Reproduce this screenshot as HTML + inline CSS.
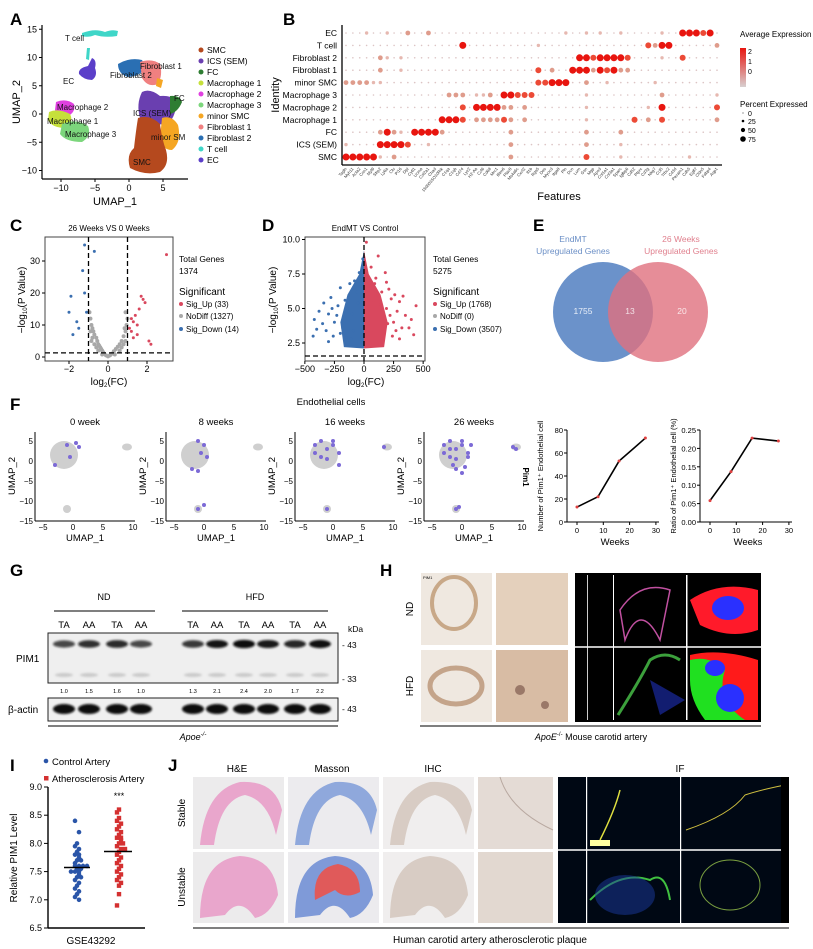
<!DOCTYPE html>
<html><head><meta charset="utf-8"><style>
html,body{margin:0;padding:0;background:#fff}
svg{display:block;font-family:"Liberation Sans Narrow","Liberation Sans",Arial,sans-serif}
.pl{font-family:"Liberation Sans",Arial,sans-serif;font-weight:bold;font-size:17px}
</style></head><body>
<svg id="fig" width="813" height="949" viewBox="0 0 813 949" xmlns="http://www.w3.org/2000/svg">
<defs>
<filter id="blur1" x="-20%" y="-50%" width="140%" height="200%"><feGaussianBlur stdDeviation="1.1"/></filter>
<filter id="blur2"><feGaussianBlur stdDeviation="2.5"/></filter>
</defs>
<g>
<text class="pl" x="10" y="25">A</text>
<text class="pl" x="283" y="25">B</text>
<text class="pl" x="10" y="231">C</text>
<text class="pl" x="262" y="231">D</text>
<text class="pl" x="533" y="231">E</text>
<text class="pl" x="10" y="410">F</text>
<text class="pl" x="10" y="576">G</text>
<text class="pl" x="380" y="576">H</text>
<text class="pl" x="10" y="771">I</text>
<text class="pl" x="168" y="771">J</text>
</g>

<g>
<path d="M82,33 Q95,28 105,32 Q112,29 118,31 L117,36 Q105,38 95,35 Q88,38 82,36Z" fill="#3fd6c8"/>
<path d="M87,48 L90,48 L89,60 L86,59Z" fill="#3fd6c8"/>
<path d="M92,58 Q97,60 95,68 Q98,76 92,80 Q84,80 79,74 Q78,68 88,66Z" fill="#5b3fc9"/>
<path d="M118,64 Q130,57 142,60 L146,68 Q140,76 128,77 Q118,74 118,64Z" fill="#2a6fb3"/>
<path d="M140,62 Q152,58 160,64 Q163,75 158,84 Q148,88 142,78Z" fill="#f08080"/>
<path d="M157,78 L163,80 L161,88 L156,86Z" fill="#f5a623"/>
<path d="M142,92 Q150,88 160,96 Q170,95 176,100 Q177,115 168,124 Q150,126 140,118 Q136,104 142,92Z" fill="#6a3fb0"/>
<path d="M170,96 Q180,95 182,102 Q178,112 170,114Z" fill="#2e7d32"/>
<path d="M162,118 Q172,115 178,125 Q182,142 172,150 Q162,150 160,138Z" fill="#f5a623"/>
<path d="M138,118 Q150,114 160,124 Q162,140 166,150 Q170,165 160,172 Q145,176 130,168 Q126,155 134,148 Q136,130 138,118Z" fill="#b5491e"/>
<path d="M56,102 Q66,98 74,104 Q76,112 68,116 Q58,116 55,110Z" fill="#e040e0"/>
<path d="M49,112 Q58,108 70,114 Q74,122 66,128 Q52,128 48,120Z" fill="#c6e03b"/>
<path d="M62,124 Q76,118 88,126 Q92,136 82,142 Q66,142 60,134Z" fill="#7cd67c"/>
</g>
<g font-size="8" fill="#111">
<text x="65" y="41">T cell</text>
<text x="63" y="84">EC</text>
<text x="140" y="69">Fibroblast 1</text>
<text x="110" y="78">Fibroblast 2</text>
<text x="174" y="101">FC</text>
<text x="133" y="116">ICS (SEM)</text>
<text x="151" y="140">minor SM</text>
<text x="133" y="165">SMC</text>
<text x="57" y="110">Macrophage 2</text>
<text x="47" y="124">Macrophage 1</text>
<text x="65" y="137">Macrophage 3</text>
</g>
<g id="gA"></g>
<g id="gB"></g>
<g id="gC"></g>
<g id="gD"></g>

<g>
<text x="573" y="242" font-size="8.5" fill="#6b8fc6" text-anchor="middle">EndMT</text>
<text x="573" y="254" font-size="8.5" fill="#6b8fc6" text-anchor="middle">Upregulated Genes</text>
<text x="681" y="242" font-size="8.5" fill="#e0808e" text-anchor="middle">26 Weeks</text>
<text x="681" y="254" font-size="8.5" fill="#e0808e" text-anchor="middle">Upregulated Genes</text>
<circle cx="603" cy="312" r="50" fill="#5b86c4" fill-opacity="0.9"/>
<circle cx="658" cy="312" r="50" fill="#e0707e" fill-opacity="0.8"/>
<text x="583" y="314" font-size="8.5" fill="#e8eef8" text-anchor="middle">1755</text>
<text x="630" y="314" font-size="8.5" fill="#f2e0e6" text-anchor="middle">13</text>
<text x="682" y="314" font-size="8.5" fill="#fbe8ea" text-anchor="middle">20</text>
</g>

<g id="gF"></g>

<g>
<text x="104" y="600" font-size="9" text-anchor="middle">ND</text>
<text x="255" y="600" font-size="9" text-anchor="middle">HFD</text>
<line x1="54" y1="611" x2="155" y2="611" stroke="#333" stroke-width="1.2"/>
<line x1="182" y1="611" x2="328" y2="611" stroke="#333" stroke-width="1.2"/>
<text x="348" y="632" font-size="8.5">kDa</text>
<rect x="48" y="633" width="290" height="50" fill="#efefef" stroke="#222" stroke-width="1"/>
<text x="16" y="662" font-size="10">PIM1</text>
<text x="342" y="648" font-size="8.5">- 43</text>
<text x="342" y="682" font-size="8.5">- 33</text>
<rect x="48" y="698" width="290" height="23" fill="#f0f0f0" stroke="#222" stroke-width="1"/>
<text x="8" y="713" font-size="10">β-actin</text>
<text x="342" y="712" font-size="8.5">- 43</text>
<line x1="48" y1="726" x2="338" y2="726" stroke="#333" stroke-width="1.2"/>
<text x="193" y="740" font-size="9" font-style="italic" text-anchor="middle">Apoe<tspan font-size="6" dy="-4">-/-</tspan></text>
<g id="gG"></g>
</g>

<g>
<text transform="translate(413,609) rotate(-90)" font-size="10" text-anchor="middle">ND</text>
<text transform="translate(413,686) rotate(-90)" font-size="10" text-anchor="middle">HFD</text>
<rect x="421" y="573" width="71" height="72" fill="#efe8e0"/>
<ellipse cx="454" cy="603" rx="22" ry="26" fill="none" stroke="#c8a888" stroke-width="4"/>
<text x="423" y="579" font-size="4">PIM1</text>
<rect x="421" y="650" width="71" height="72" fill="#efe8e0"/>
<ellipse cx="456" cy="686" rx="26" ry="18" fill="none" stroke="#c4a48a" stroke-width="5"/>
<rect x="496" y="573" width="72" height="72" fill="#e4d0bc"/>
<rect x="496" y="650" width="72" height="72" fill="#d8bca4"/>
<circle cx="520" cy="690" r="5" fill="#9a7868"/>
<circle cx="545" cy="705" r="4" fill="#9a7868"/>
<rect x="575" y="573" width="186" height="149" fill="#000"/>
<line x1="575" y1="647" x2="761" y2="647" stroke="#fff" stroke-width="1.5"/>
<rect x="587" y="575" width="0.8" height="145" fill="#fff"/>
<rect x="613" y="575" width="1" height="145" fill="#fff"/>
<rect x="686" y="575" width="1.5" height="145" fill="#fff"/>
<path d="M620,610 Q640,580 670,590 L660,640 Q640,600 625,640Z" fill="none" stroke="#c050a0" stroke-width="1.5"/>
<path d="M618,715 Q640,680 650,660 Q665,650 680,660" fill="none" stroke="#3ca03c" stroke-width="3"/>
<path d="M650,680 L685,700 L660,715Z" fill="#1a2aa0" opacity="0.7"/>
<path d="M690,600 Q720,580 758,590 L758,630 Q730,640 700,625Z" fill="#ff1a2a"/>
<ellipse cx="728" cy="608" rx="16" ry="12" fill="#2a30ff"/>
<path d="M690,655 Q720,648 758,660 L758,720 L720,720 Q700,690 690,680Z" fill="#ff1a1a"/>
<path d="M690,660 Q710,655 725,670 Q715,700 745,720 L705,720 Q690,700 690,680Z" fill="#20e020"/>
<ellipse cx="730" cy="698" rx="14" ry="14" fill="#2a30ff"/>
<ellipse cx="715" cy="668" rx="10" ry="8" fill="#2a30ff"/>
<line x1="420" y1="726" x2="761" y2="726" stroke="#333" stroke-width="1.2"/>
<text x="591" y="740" font-size="9" text-anchor="middle"><tspan font-style="italic">ApoE</tspan><tspan font-size="6" dy="-4">-/-</tspan><tspan dy="4"> Mouse carotid artery</tspan></text>
</g>

<g id="gI"></g>

<g>
<g font-size="10" text-anchor="middle">
<text x="237" y="772">H&amp;E</text>
<text x="332" y="772">Masson</text>
<text x="433" y="772">IHC</text>
<text x="680" y="772">IF</text>
</g>
<text transform="translate(185,813) rotate(-90)" font-size="10" text-anchor="middle">Stable</text>
<text transform="translate(185,887) rotate(-90)" font-size="10" text-anchor="middle">Unstable</text>
<rect x="193" y="777" width="91" height="72" fill="#ecebec"/>
<path d="M200,845 Q205,790 240,782 Q275,780 282,810 L276,835 Q268,800 245,795 Q220,800 214,845Z" fill="#e9a6cc"/>
<rect x="193" y="852" width="91" height="71" fill="#ecebec"/>
<path d="M200,918 Q200,860 240,856 Q275,858 278,895 Q270,915 255,918 Q240,895 225,915Z" fill="#e9a6cc"/>
<rect x="288" y="777" width="91" height="72" fill="#ecebee"/>
<path d="M295,845 Q300,790 335,782 Q370,780 377,810 L371,835 Q363,800 340,795 Q315,800 309,845Z" fill="#8fa8dc"/>
<rect x="288" y="852" width="91" height="71" fill="#ecebee"/>
<path d="M295,918 Q295,860 335,856 Q370,858 373,895 Q365,915 350,918 Q335,895 320,915Z" fill="#7f9ad8"/>
<path d="M315,900 Q312,868 338,864 Q360,868 360,892 Q345,900 335,890Z" fill="#e05a5a"/>
<rect x="383" y="777" width="91" height="72" fill="#f0eeee"/>
<path d="M390,845 Q395,790 430,782 Q465,780 472,810 L466,835 Q458,800 435,795 Q410,800 404,845Z" fill="#d8ccc4"/>
<rect x="383" y="852" width="91" height="71" fill="#f0eeee"/>
<path d="M390,918 Q390,860 430,856 Q465,858 468,895 Q460,915 445,918 Q430,895 415,915Z" fill="#d8ccc4"/>
<rect x="478" y="777" width="75" height="72" fill="#e4dbd5"/>
<rect x="478" y="852" width="75" height="71" fill="#e2d8d0"/>
<path d="M500,777 Q510,810 553,830" fill="none" stroke="#b8a8a0" stroke-width="1"/>
<rect x="558" y="777" width="231" height="146" fill="#000814"/>
<line x1="558" y1="850" x2="789" y2="850" stroke="#fff" stroke-width="1.5"/>
<rect x="586" y="777" width="1.2" height="146" fill="#fff"/>
<rect x="680" y="777" width="1.2" height="146" fill="#fff"/>
<path d="M600,840 Q615,810 620,790" fill="none" stroke="#e0e040" stroke-width="1.5"/>
<rect x="590" y="840" width="20" height="6" fill="#ffffa0"/>
<path d="M686,830 Q730,815 745,795 Q760,790 785,785" fill="none" stroke="#d0c040" stroke-width="1"/>
<path d="M590,900 Q620,870 650,880 Q665,870 670,900" fill="none" stroke="#40c040" stroke-width="2"/>
<ellipse cx="625" cy="895" rx="30" ry="20" fill="#1a3aa0" opacity="0.5"/>
<ellipse cx="730" cy="885" rx="30" ry="25" fill="none" stroke="#7aa040" stroke-width="1"/>
<rect x="781" y="777" width="8" height="146" fill="#000"/>
<line x1="193" y1="928" x2="789" y2="928" stroke="#333" stroke-width="1.2"/>
<text x="490" y="943" font-size="10" text-anchor="middle">Human carotid artery atherosclerotic plaque</text>
</g>
</svg>
<script>
const NS="http://www.w3.org/2000/svg";
function mk(tag,parent,attrs){const e=document.createElementNS(NS,tag);for(const k in attrs)e.setAttribute(k,attrs[k]);parent.appendChild(e);return e;}
function txt(parent,x,y,s,size,anchor){const t=mk('text',parent,{x:x,y:y,'font-size':size,'text-anchor':anchor||'start'});t.textContent=s;return t;}

const aXTicks=[-10,-5,0,5];
const aYTicks=[15,10,5,0,-5,-10];
const aLegend=["SMC","ICS (SEM)","FC","Macrophage 1","Macrophage 2","Macrophage 3","minor SMC","Fibroblast 1","Fibroblast 2","T cell","EC"];
const aLegendColors=["#b5491e","#6a3fb0","#2e7d32","#c6e03b","#e040e0","#7cd67c","#f5a623","#f08080","#2a6fb3","#3fd6c8","#5b3fc9"];
(function(){
 const g=document.getElementById('gA');
 const ax=v=>129+v*6.8, ay=v=>114-v*5.65;
 let l=mk('line',g,{x1:42,y1:25,x2:42,y2:179,stroke:'#000','stroke-width':1.2});
 
 
 l=mk('line',g,{x1:42,y1:179,x2:188,y2:179,stroke:'#000','stroke-width':1.2});
 
 
 aXTicks.forEach(v=>{mk('line',g,{x1:ax(v),y1:179,x2:ax(v),y2:182,stroke:'#000'});const t=txt(g,ax(v),191,String(v).replace('-','−'),9,'middle');});
 aYTicks.forEach(v=>{mk('line',g,{x1:39,y1:ay(v),x2:42,y2:ay(v),stroke:'#000'});const t=txt(g,37,ay(v)+3,String(v).replace('-','−'),9,'end');});
 let t=txt(g,115,205,'UMAP_1',11,'middle');
 t=mk('text',g,{transform:'translate(20,102) rotate(-90)','font-size':11,'text-anchor':'middle'});t.textContent='UMAP_2';
 
 aLegend.forEach((s,i)=>{const y=50+i*11;const c=mk('circle',g,{cx:201,cy:y,r:2.5,fill:aLegendColors[i]});const tt=txt(g,207,y+3,s,8.5);});
})();

const bIdentities=["EC","T cell","Fibroblast 2","Fibroblast 1","minor SMC","Macrophage 3","Macrophage 2","Macrophage 1","FC","ICS (SEM)","SMC"];
const bGenes=["Tagln","Myh11","Acta2","Cnn1","Myl9","Sfrp2","Ly6a","Clu","Pi16","Dpt","Cytl1","Ucma","Col2a1","Chad","1500015O10Rik","C1qa","C1qb","Cd74","Lyz2","H2-Aa","Ccl6","Cd68","Mrc1","Ifitm6","Plac8","Ms4a6c","Cxcl2","Il1b","Rgs5","Des","Myocd","Itga8","Pln","Dcn","Lum","Gsn","Mgp","Apod","Col1a1","Col3a1","Sparc","Igfbp6","Cd52","Ptprc","Cd3g","Nkg7","Ccl5","Trbc2","Cd3d","Pecam1","Cdh5","Egfl7","Cldn5","Fabp4","Aqp1"];
const bEC=[[3,1],[6,1],[9,2],[12,2],[32,1],[35,1],[37,1],[40,1],[46,1],[49,4],[50,4],[51,4],[52,3],[53,4]];
const bTcell=[[17,4],[28,1],[44,3],[45,2],[46,4],[47,4],[54,2]];
const bFib2=[[5,2],[6,1],[8,1],[34,4],[35,4],[36,3],[37,4],[38,4],[39,4],[40,4],[41,3],[46,1],[49,3]];
const bFib1=[[5,2],[8,1],[28,3],[30,2],[33,4],[34,4],[35,4],[36,2],[37,4],[38,3],[39,4],[40,2],[41,2]];
const bMinor=[[0,2],[1,2],[2,2],[3,2],[4,1],[5,1],[28,3],[29,3],[30,4],[31,4],[32,4],[35,2],[38,1],[45,1]];
const bMac3=[[15,2],[16,2],[17,2],[19,1],[20,1],[21,2],[23,4],[24,4],[25,3],[26,3],[27,3],[35,1],[46,2],[54,1]];
const bMac2=[[17,3],[19,4],[20,4],[21,4],[22,4],[23,2],[24,2],[26,2],[35,1],[44,1],[46,4],[54,3]];
const bMac1=[[14,4],[15,4],[16,4],[17,3],[19,2],[20,2],[21,2],[22,2],[23,3],[24,2],[26,2],[35,1],[42,3],[44,2],[46,3],[54,2]];
const bFC=[[5,2],[6,4],[7,2],[8,1],[10,4],[11,4],[12,4],[13,4],[14,2],[24,2],[35,2],[40,2]];
const bICS=[[0,1],[5,4],[6,4],[7,4],[8,4],[9,3],[12,1],[24,2],[35,2],[40,1]];
const bSMC=[[0,4],[1,4],[2,4],[3,4],[4,4],[5,1],[7,2],[24,2],[35,3],[40,1],[50,1]];
const bRows=[bEC,bTcell,bFib2,bFib1,bMinor,bMac3,bMac2,bMac1,bFC,bICS,bSMC];
(function(){
 const g=document.getElementById('gB');
 const cx=i=>346+i*(371/(bGenes.length-1)), ry=i=>33+i*12.4;
 const rad=[0.8,1.7,2.4,3.0,3.5], col=['#dcc4c4','#e6b8b0','#df9c8c','#ec4a36','#e8150f'];
 let l=mk('line',g,{x1:342,y1:25,x2:342,y2:165,stroke:'#000','stroke-width':1.3});
 l=mk('line',g,{x1:342,y1:165,x2:722,y2:165,stroke:'#000','stroke-width':1.3});
 bIdentities.forEach((s,r)=>{const t=txt(g,337,ry(r)+3,s,8.5,'end');
  const lv=new Array(bGenes.length).fill(0);bRows[r].forEach(p=>lv[p[0]]=p[1]);
  lv.forEach((v,i)=>{const c=mk('circle',g,{cx:cx(i),cy:ry(r),r:rad[v],fill:col[v]});});});
 bGenes.forEach((s,i)=>{const t=mk('text',g,{transform:`translate(${cx(i)+1},169) rotate(-50)`,'font-size':4.2,'text-anchor':'end',fill:'#333'});t.textContent=s;});
 let t=txt(g,559,200,'Features',11,'middle');
 t=mk('text',g,{transform:'translate(279,95) rotate(-90)','font-size':11,'text-anchor':'middle'});t.textContent='Identity';
 t=txt(g,740,37,'Average Expression',8);
 const lg=mk('linearGradient',document.querySelector('defs'),{id:'bgrad',x1:0,y1:0,x2:0,y2:1});mk('stop',lg,{offset:0,'stop-color':'#e8150f'});mk('stop',lg,{offset:1,'stop-color':'#d8d0d0'});
 const cb=mk('rect',g,{x:740,y:48,width:6,height:39,fill:'url(#bgrad)'});
 [['2',54],['1',64],['0',74]].forEach(a=>{const tt=txt(g,748,a[1],a[0],7);});
 t=txt(g,740,107,'Percent Expressed',8);
 [[0,113,0.5],[25,121,1.3],[50,130,2.1],[75,139,2.8]].forEach(a=>{const c=mk('circle',g,{cx:743,cy:a[1],r:a[2],fill:'#000'});const tt=txt(g,748,a[1]+3,String(a[0]),7);});
})();

const cUp=[[3.0,32],[1.3,11],[1.5,10],[1.7,19],[1.8,18],[1.9,17],[1.2,8],[1.4,13],[2.1,5],[1.6,15],[1.3,6],[1.1,9],[2.2,4],[1.5,7],[1.2,12]];
const cDown=[[-1.2,35],[-1.3,27],[-1.2,20],[-1.9,19],[-1.6,11],[-1.8,7],[-1.1,14],[-2.0,14],[-1.5,9],[-0.7,33]];
const cNoDiff=[[-0.9,12],[-0.85,10],[-0.8,9],[-0.75,8],[-0.7,7],[-0.6,6],[-0.55,5],[-0.5,4],[-0.45,3.5],[-0.4,3],[-0.35,2.5],[-0.3,2],[-0.25,1.5],[-0.2,1],[-0.1,0.5],[0,0.2],[0.1,0.5],[0.2,1],[0.3,1.8],[0.4,2.5],[0.5,3.2],[0.6,4],[0.7,5],[0.8,6.5],[0.9,8],[0.95,10],[1.0,12],[-0.9,8],[-0.8,6],[-0.7,4],[-0.6,3],[0.7,3],[0.8,4],[0.9,5],[-0.95,14],[0.6,2],[-0.5,2],[0.35,0.8],[-0.3,0.8],[0.9,14],[-0.85,5],[0.85,9]];
const cXTicks=[-2,0,2], cYTicks=[0,10,20,30];
(function(){
 const g=document.getElementById('gC');
 const x=v=>108+v*19.5, y=v=>357-v*3.2;
 let t=txt(g,109,231,'26 Weeks VS 0 Weeks',8,'middle');
 const b=mk('rect',g,{x:45,y:237,width:128,height:124,fill:'none',stroke:'#444','stroke-width':1});
 cNoDiff.forEach(p=>{const c=mk('circle',g,{cx:x(p[0]),cy:y(p[1]),r:2,fill:'#a8a8a8'});});
 cUp.forEach(p=>{const c=mk('circle',g,{cx:x(p[0]),cy:y(p[1]),r:1.5,fill:'#d9485e'});});
 cDown.forEach(p=>{const c=mk('circle',g,{cx:x(p[0]),cy:y(p[1]),r:1.5,fill:'#3b6fb0'});});
 [-1,1].forEach(v=>{const l=mk('line',g,{x1:x(v),y1:237,x2:x(v),y2:361,stroke:'#000','stroke-width':1.3,'stroke-dasharray':'5,3'});});
 let l=mk('line',g,{x1:45,y1:y(1.3),x2:173,y2:y(1.3),stroke:'#000','stroke-width':1.3,'stroke-dasharray':'5,3'});
 cXTicks.forEach(v=>{mk('line',g,{x1:x(v),y1:361,x2:x(v),y2:364,stroke:'#000'});const tt=txt(g,x(v),372,String(v).replace('-','−'),9,'middle');});
 cYTicks.forEach(v=>{mk('line',g,{x1:42,y1:y(v),x2:45,y2:y(v),stroke:'#000'});const tt=txt(g,40,y(v)+3,String(v),9,'end');});
 t=mk('text',g,{x:109,y:385,'font-size':10,'text-anchor':'middle'});t.innerHTML='log<tspan font-size="6" dy="2">2</tspan><tspan dy="-2">(FC)</tspan>';
 t=mk('text',g,{transform:'translate(25,300) rotate(-90)','font-size':10,'text-anchor':'middle'});t.innerHTML='−log<tspan font-size="6" dy="2">10</tspan><tspan dy="-2">(P Value)</tspan>';
 [['Total Genes',262,8.5],['1374',274,8.5],['Significant',295,10]].forEach(a=>{const tt=txt(g,179,a[1],a[0],a[2]);});
 [['Sig_Up (33)','#d9485e',307],['NoDiff (1327)','#a8a8a8',319],['Sig_Down (14)','#3b6fb0',332]].forEach(a=>{const c=mk('circle',g,{cx:181,cy:a[2]-3,r:2,fill:a[1]});const tt=txt(g,186,a[2],a[0],8);});
})();

const dUp=[[20,9.8],[120,8.8],[60,8.0],[180,7.6],[210,6.4],[90,6.8],[150,6.2],[230,5.7],[300,5.5],[260,6.0],[190,5.0],[350,4.5],[400,4.2],[320,3.6],[170,3.2],[130,3.8],[240,3.0],[420,3.1],[80,5.6],[110,4.6],[280,4.8],[200,3.9],[60,3.4],[330,5.9],[160,4.3],[440,5.2],[250,4.0],[100,7.2],[40,6.6],[140,5.3],[220,4.5],[380,3.6],[300,2.8],[70,2.9],[190,6.9],[270,3.4],[130,2.6],[50,4.9]];
const dDown=[[-10,8.6],[-40,7.6],[-200,6.5],[-120,6.8],[-280,5.8],[-340,5.4],[-300,4.6],[-220,5.2],[-160,5.6],[-380,4.8],[-420,4.2],[-250,4.0],[-320,3.4],[-180,3.6],[-430,3.0],[-100,4.6],[-60,6.2],[-140,5.0],[-260,3.0],[-200,3.2],[-350,3.9],[-90,3.4],[-300,2.6],[-110,2.8],[-50,5.4],[-230,4.5],[-170,4.3],[-80,7.0],[-30,6.6],[-400,3.5],[-150,2.9],[-270,5.0]];
const dXTicks=[-500,-250,0,250,500], dYTicks=[2.5,5.0,7.5,10.0];
(function(){
 const g=document.getElementById('gD');
 const x=v=>364+v*0.1183, y=v=>343-(v-2.5)*13.8;
 let t=txt(g,365,231,'EndMT VS Control',8,'middle');
 const b=mk('rect',g,{x:305,y:237,width:120,height:124,fill:'none',stroke:'#444','stroke-width':1});
 let p=mk('path',g,{d:`M${x(0)},${y(9.2)} L${x(-40)},${y(7.5)} L${x(-140)},${y(6)} L${x(-200)},${y(4)} L${x(-170)},${y(2.2)} L${x(0)},${y(2.1)}Z`,fill:'#3b6fb0'});
 p=mk('path',g,{d:`M${x(0)},${y(9.2)} L${x(40)},${y(7.5)} L${x(140)},${y(6)} L${x(200)},${y(4)} L${x(170)},${y(2.2)} L${x(0)},${y(2.1)}Z`,fill:'#d9485e'});
 dDown.forEach(q=>{const c=mk('circle',g,{cx:x(q[0]),cy:y(q[1]),r:1.5,fill:'#3b6fb0'});});
 dUp.forEach(q=>{const c=mk('circle',g,{cx:x(q[0]),cy:y(q[1]),r:1.5,fill:'#d9485e'});});
 let l=mk('line',g,{x1:x(0),y1:237,x2:x(0),y2:361,stroke:'#000','stroke-width':1.3,'stroke-dasharray':'5,3'});
 l=mk('line',g,{x1:305,y1:356,x2:425,y2:356,stroke:'#000','stroke-width':1.3,'stroke-dasharray':'5,3'});
 dXTicks.forEach(v=>{mk('line',g,{x1:x(v),y1:361,x2:x(v),y2:364,stroke:'#000'});const tt=txt(g,x(v),372,String(v).replace('-','−'),9,'middle');});
 dYTicks.forEach(v=>{mk('line',g,{x1:302,y1:y(v),x2:305,y2:y(v),stroke:'#000'});const tt=txt(g,300,y(v)+3,v.toFixed(1),9,'end');});
 t=mk('text',g,{x:366,y:385,'font-size':10,'text-anchor':'middle'});t.innerHTML='log<tspan font-size="6" dy="2">2</tspan><tspan dy="-2">(FC)</tspan>';
 t=mk('text',g,{transform:'translate(276,300) rotate(-90)','font-size':10,'text-anchor':'middle'});t.innerHTML='−log<tspan font-size="6" dy="2">10</tspan><tspan dy="-2">(P Value)</tspan>';
 [['Total Genes',262,8.5],['5275',274,8.5],['Significant',295,10]].forEach(a=>{const tt=txt(g,433,a[1],a[0],a[2]);});
 [['Sig_Up (1768)','#d9485e',307],['NoDiff (0)','#a8a8a8',319],['Sig_Down (3507)','#3b6fb0',332]].forEach(a=>{const c=mk('circle',g,{cx:435,cy:a[2]-3,r:2,fill:a[1]});const tt=txt(g,440,a[2],a[0],8);});
})();

const fWeeks=["0 week","8 weeks","16 weeks","26 weeks"];
const fPurple0=[[-1,4],[1,3.5],[-0.5,1],[-3,-1],[0.5,4.5]];
const fPurple8=[[-1,5],[0,4],[-0.5,2],[0.5,1],[-2,-2],[-1,-2.5],[-1,-12],[0,-11]];
const fPurple16=[[-3,4],[-2,5],[-1,3],[0,4],[1,2],[-2,1],[-1,0.5],[0,5],[-3,2],[8.5,3.5],[-1,-12],[1,-1]];
const fPurple26=[[-3,4],[-2,5],[-1,3],[0,4],[1,2],[-2,1],[-1,0.5],[0,5],[-3,2],[-1,-2],[0,-3],[-1.5,-1],[0.5,-1.5],[1,1],[8.5,3.5],[9,3],[-1,-12],[-0.5,-11.5],[-2,3],[1.5,4]];
const fPurples=[fPurple0,fPurple8,fPurple16,fPurple26];
const fUX=[-5,0,5,10], fUY=[5,0,-5,-10,-15];
const lineWeeks=[0,8,16,26];
const lineCounts=[13,22,53,73];
const lineRatios=[0.058,0.137,0.228,0.220];
(function(){
 const g=document.getElementById('gF');
 let t=txt(g,331,405,'Endothelial cells',9.5,'middle');
 const x0s=[35,166,295,424];
 fWeeks.forEach((w,k)=>{
  const ox=x0s[k], x=v=>ox+8+(v+5)*6.0, y=v=>441-(v-5)*4;
  const sg=mk('g',g,{});
  let tt=txt(sg,ox+50,425,w,9.5,'middle');
  [[x(-1.5),y(1.5),14,14],[x(9),y(3.5),5,3.5],[x(-1),y(-12),4,4]].forEach(e=>{const c=mk('ellipse',sg,{cx:e[0],cy:e[1],rx:e[2],ry:e[3],fill:'#cfcfcf'});});
  fPurples[k].forEach(p=>{const c=mk('circle',sg,{cx:x(p[0]),cy:y(p[1]),r:2,fill:'#7c6ad6'});});
  let l=mk('line',sg,{x1:ox,y1:432,x2:ox,y2:521,stroke:'#000'});
  l=mk('line',sg,{x1:ox,y1:521,x2:ox+100,y2:521,stroke:'#000'});
  fUX.forEach(v=>{tt=txt(sg,x(v),530,String(v).replace('-','−'),8,'middle');});
  fUY.forEach(v=>{tt=txt(sg,ox-2,y(v)+3,String(v).replace('-','−'),8,'end');});
  tt=txt(sg,ox+50,541,'UMAP_1',9.5,'middle');
  tt=mk('text',sg,{transform:`translate(${ox-20},476) rotate(-90)`,'font-size':9.5,'text-anchor':'middle'});tt.textContent='UMAP_2';
 });
 t=mk('text',g,{transform:'translate(523,477) rotate(90)','font-size':8,'font-weight':'bold','text-anchor':'middle'});t.textContent='Pim1';
 function lineChart(ax0,vals,yTicks,ymax,fmt,ylab,nm){
  const x=v=>ax0+10+v*2.63, y=v=>522-v/ymax*92;
  const sg=mk('g',g,{});
  let l=mk('line',sg,{x1:ax0,y1:430,x2:ax0,y2:522,stroke:'#000'});
  l=mk('line',sg,{x1:ax0,y1:522,x2:ax0+92,y2:522,stroke:'#000'});
  yTicks.forEach(v=>{mk('line',sg,{x1:ax0-3,y1:y(v),x2:ax0,y2:y(v),stroke:'#000'});const tt=txt(sg,ax0-4,y(v)+3,fmt(v),7.5,'end');});
  [0,10,20,30].forEach(v=>{mk('line',sg,{x1:x(v),y1:522,x2:x(v),y2:525,stroke:'#000'});const tt=txt(sg,x(v),533,String(v),7.5,'middle');});
  const pl=mk('polyline',sg,{points:lineWeeks.map((w,i)=>x(w)+','+y(vals[i])).join(' '),fill:'none',stroke:'#000','stroke-width':1.6});
  lineWeeks.forEach((w,i)=>{const c=mk('circle',sg,{cx:x(w),cy:y(vals[i]),r:1.5,fill:'#e04040'});});
  let tt=txt(sg,ax0+48,545,'Weeks',9.5,'middle');
  tt=mk('text',sg,{transform:`translate(${ax0-24},476) rotate(-90)`,'font-size':7.5,'text-anchor':'middle'});tt.textContent=ylab;
 }
 lineChart(567,lineCounts,[0,20,40,60,80],80,v=>String(v),'Number of Pim1⁺ Endothelial cell','count-chart');
 lineChart(700,lineRatios,[0,0.05,0.1,0.15,0.2,0.25],0.25,v=>v.toFixed(2),'Ratio of Pim1⁺ Endothelial cell (%)','ratio-chart');
})();

const gLanes=["TA","AA","TA","AA","TA","AA","TA","AA","TA","AA"];
const gQuant=["1.0","1.5","1.6","1.0","1.3","2.1","2.4","2.0","1.7","2.2"];
const gPimIntensity=[1.0,1.5,1.6,1.0,1.3,2.1,2.4,2.0,1.7,2.2];
(function(){
 const g=document.getElementById('gG');
 const lx=[64,89,117,141,193,217,244,268,295,320];
 gLanes.forEach((s,i)=>{
  let t=txt(g,lx[i],628,s,9.5,'middle');
  const op=Math.min(1,0.55+gPimIntensity[i]*0.2);
  let e=mk('ellipse',g,{cx:lx[i],cy:644,rx:11,ry:3.2+gPimIntensity[i]*0.4,fill:'#111','fill-opacity':op,filter:'url(#blur1)'});
  e=mk('ellipse',g,{cx:lx[i],cy:675,rx:9,ry:2,fill:'#888','fill-opacity':0.35,filter:'url(#blur1)'});
  t=txt(g,lx[i],693,gQuant[i],5.5,'middle');
  e=mk('ellipse',g,{cx:lx[i],cy:709,rx:11,ry:5,fill:'#080808',filter:'url(#blur1)'});
 });
})();

const iControl=[8.4,8.2,8.0,7.95,7.9,7.85,7.8,7.8,7.75,7.7,7.7,7.65,7.6,7.6,7.6,7.55,7.55,7.5,7.5,7.5,7.45,7.4,7.4,7.35,7.3,7.25,7.2,7.15,7.1,7.05,7.0,7.6];
const iAthero=[8.6,8.55,8.45,8.4,8.35,8.3,8.25,8.2,8.15,8.1,8.05,8.0,8.0,7.95,7.9,7.9,7.85,7.8,7.75,7.7,7.65,7.6,7.55,7.5,7.45,7.4,7.35,7.3,7.25,7.1,6.9,8.1];
const iYTicks=[6.5,7.0,7.5,8.0,8.5,9.0];
(function(){
 const g=document.getElementById('gI');
 const y=v=>928-(v-6.5)*56.4;
 let c=mk('circle',g,{cx:46,cy:761,r:2.3,fill:'#2a55a8'});
 let t=txt(g,52,765,'Control Artery',9.5);
 let r=mk('rect',g,{x:44,y:776,width:4.5,height:4.5,fill:'#d43030'});
 t=txt(g,52,782,'Atherosclerosis Artery',9.5);
 let l=mk('line',g,{x1:48,y1:787,x2:48,y2:928,stroke:'#000','stroke-width':1.4});
 l=mk('line',g,{x1:48,y1:928,x2:145,y2:928,stroke:'#000','stroke-width':1.4});
 iYTicks.forEach(v=>{mk('line',g,{x1:44,y1:y(v),x2:48,y2:y(v),stroke:'#000'});const tt=txt(g,42,y(v)+3,v.toFixed(1),9,'end');});
 const sorted=(arr,cx,draw)=>{const cnt={};arr.forEach(v=>{const k=Math.round(v*20);const n=cnt[k]||0;cnt[k]=n+1;const off=(n%2?1:-1)*Math.ceil(n/2)*4+((k%3)-1)*2;draw(cx+off,y(v));});};
 sorted(iControl,77,(px,py)=>{const cc=mk('circle',g,{cx:px,cy:py,r:2.3,fill:'#2a55a8'});});
 sorted(iAthero,119,(px,py)=>{const rr=mk('rect',g,{x:px-2.2,y:py-2.2,width:4.4,height:4.4,fill:'#d43030'});});
 const mean=a=>a.reduce((s,v)=>s+v,0)/a.length;
 l=mk('line',g,{x1:64,y1:y(mean(iControl)),x2:90,y2:y(mean(iControl)),stroke:'#000','stroke-width':1.5});
 l=mk('line',g,{x1:104,y1:y(mean(iAthero)),x2:132,y2:y(mean(iAthero)),stroke:'#000','stroke-width':1.5});
 t=txt(g,119,799,'***',9,'middle');
 t=txt(g,91,944,'GSE43292',10,'middle');
 t=mk('text',g,{transform:'translate(17,858) rotate(-90)','font-size':10,'text-anchor':'middle'});t.textContent='Relative PIM1 Level';
})();
</script>
</body></html>
